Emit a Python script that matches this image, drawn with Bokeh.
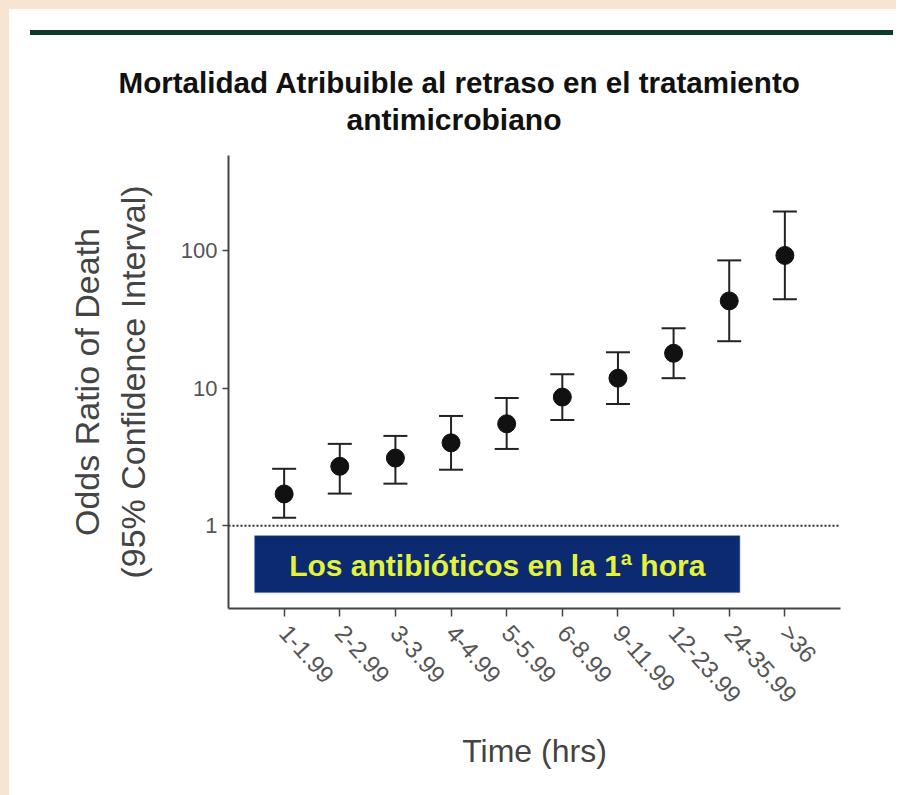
from bokeh.plotting import figure
from bokeh.layouts import column, row
from bokeh.models import (Range1d, FixedTicker, Whisker, ColumnDataSource, Span,
                          BoxAnnotation, Label, Title, TeeHead, Div, Spacer)
from bokeh.embed import file_html
from bokeh.resources import INLINE

# ---- data ----
categories = ["1-1.99", "2-2.99", "3-3.99", "4-4.99", "5-5.99",
              "6-8.99", "9-11.99", "12-23.99", "24-35.99", ">36"]
odds_ratio = [1.7, 2.7, 3.1, 4.0, 5.5, 8.6, 11.8, 17.9, 43.0, 92.0]
ci_lower = [1.14, 1.71, 2.02, 2.55, 3.61, 5.86, 7.66, 11.8, 21.9, 44.2]
ci_upper = [2.59, 3.93, 4.49, 6.27, 8.47, 12.6, 18.2, 27.2, 84.7, 192.0]
y_ticks = [1, 10, 100]
y_tick_labels = ["1", "10", "100"]
reference_odds = 1
title_lines = ["Mortalidad Atribuible al retraso en el tratamiento", "antimicrobiano"]
box_text = "Los antibióticos en la 1ª hora"

x_pos = list(range(1, len(categories) + 1))
src = ColumnDataSource(dict(x=x_pos, y=odds_ratio, lo=ci_lower, hi=ci_upper))

FONT = "Liberation Sans"
PEACH = "#F7E5D1"

p = figure(width=887, height=760, y_axis_type="log",
           x_range=Range1d(0, len(categories) + 1), y_range=Range1d(0.25, 490),
           output_backend="svg", toolbar_location=None, title=None,
           min_border_left=219, min_border_right=56, min_border_top=120, min_border_bottom=187)
p.outline_line_color = None
p.grid.visible = False
p.background_fill_color = "white"
p.border_fill_color = "white"

# two-line title, centred on the slide rather than on the plot frame
# (the title added later sits farther from the frame)
t2 = Title(text=title_lines[1], align="left", offset=118, text_font=FONT,
           text_font_size="30px", text_font_style="bold", text_color="#111111", standoff=39)
t1 = Title(text=title_lines[0], align="left", offset=-110, text_font=FONT,
           text_font_size="29.6px", text_font_style="bold", text_color="#111111", standoff=-34)
p.add_layout(t2, "above")
p.add_layout(t1, "above")

# axes
xa = p.xaxis[0]
xa.ticker = FixedTicker(ticks=x_pos)
xa.major_label_overrides = {x: c for x, c in zip(x_pos, categories)}
xa.major_label_orientation = -0.84
xa.major_label_standoff = 12
xa.major_label_text_font = FONT
xa.major_label_text_font_size = "24px"
xa.major_label_text_color = "#555555"
xa.major_tick_out = 8
xa.major_tick_in = 0
xa.minor_tick_line_color = None
xa.axis_line_width = 2
xa.axis_line_color = "#444444"
xa.major_tick_line_color = "#444444"
xa.major_tick_line_width = 1.5
xa.axis_label = "Time (hrs)"
xa.axis_label_text_font = FONT
xa.axis_label_text_font_size = "32px"
xa.axis_label_text_font_style = "normal"
xa.axis_label_text_color = "#444444"
xa.axis_label_standoff = 13

ya = p.yaxis[0]
ya.ticker = FixedTicker(ticks=y_ticks)
ya.major_label_overrides = {t: l for t, l in zip(y_ticks, y_tick_labels)}
ya.major_label_text_font = FONT
ya.major_label_text_font_size = "22px"
ya.major_label_text_color = "#555555"
ya.major_tick_out = 6
ya.major_tick_in = 0
ya.minor_tick_line_color = None
ya.axis_line_width = 2
ya.axis_line_color = "#444444"
ya.major_tick_line_color = "#444444"
ya.major_tick_line_width = 1.5
ya.axis_label = "Odds Ratio of Death\n(95% Confidence Interval)"
ya.axis_label_text_font = FONT
ya.axis_label_text_font_size = "34px"
ya.axis_label_text_font_style = "normal"
ya.axis_label_text_color = "#444444"
ya.axis_label_standoff = 26

# reference line at OR = 1
p.add_layout(Span(location=reference_odds, dimension="width", line_color="#333333",
                  line_width=2, line_dash="2 2"))

# blue banner
n = len(categories)
p.add_layout(BoxAnnotation(left=0.47, right=n - 0.81, bottom=0.327, top=0.846,
                           fill_color="#0B2A70", fill_alpha=1.0,
                           line_color="#2A4A9A", line_width=1.5))
p.add_layout(Label(x=(0.47 + n - 0.81) / 2, y=0.51, text=box_text, text_align="center",
                   text_baseline="middle", text_font=FONT, text_font_size="30px",
                   text_font_style="bold", text_color="#E4F23C"))

# error bars
head = dict(size=24, line_color="#222222", line_width=2)
p.add_layout(Whisker(source=src, base="x", lower="lo", upper="hi", dimension="height",
                     line_color="#222222", line_width=2,
                     upper_head=TeeHead(**head), lower_head=TeeHead(**head)))
p.scatter("x", "y", source=src, size=18, color="#111111")

# slide decoration: peach slide edge and dark green rule above the chart
left_edge = Div(text="", width=9, height=795, margin=0, styles={"background-color": PEACH})
top_edge = Div(text="", width=887, height=9, margin=0, styles={"background-color": PEACH})
rule = Div(text="", width=863, height=5, margin=0, styles={"background-color": "#0E3A2E"})
layout = row(left_edge,
             column(top_edge, Spacer(height=21, width=887),
                    row(Spacer(width=21, height=5), rule), p))

open("out.html", "w").write(file_html(layout, INLINE))
